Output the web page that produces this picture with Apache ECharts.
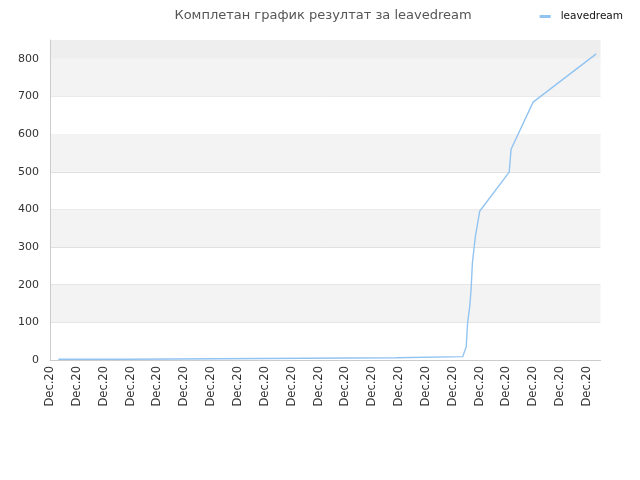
<!DOCTYPE html>
<html><head><meta charset="utf-8">
<script src="https://cdn.jsdelivr.net/npm/echarts@6/dist/echarts.min.js"></script>
<style>html,body{margin:0;padding:0;background:#fff}#c{width:640px;height:480px}</style>
</head><body><div id="c"></div>
<script>
const titleText = 'Комплетан график резултат за leavedream';
const seriesName = 'leavedream';
const tickLabel = 'Dec.20';
// x in units of tick-label spacing, y = score
const xs = [0.31, 2.87, 2.88, 7.85, 7.86, 12.87, 12.88, 15.37, 15.40, 15.50, 15.55, 15.63, 15.68, 15.73, 15.84, 16.00, 17.10, 17.17, 17.99, 20.34];
const ys = [2, 2, 4, 4, 6, 6, 9, 9, 12, 35, 98, 142, 186, 258, 328, 395, 499, 560, 685, 813];
const points = xs.map((x, i) => [x, ys[i]]);
const shadedBands = [[100, 200], [300, 400], [500, 600], [700, 800]];
const topBand = [800, 850];

const chart = echarts.init(document.getElementById('c'));
chart.setOption({
  animation: false,
  textStyle: { fontFamily: 'DejaVu Sans' },
  title: { text: titleText, left: 318, top: 4, textAlign: 'center',
    textStyle: { fontSize: 13, fontWeight: 'normal', color: '#555', fontFamily: 'DejaVu Sans' } },
  legend: { right: 12, top: 6, itemWidth: 11, itemHeight: 3, icon: 'rect', itemGap: 5,
    textStyle: { fontSize: 10.5, color: '#111', padding: [0, 0, 0, 5] }, data: [seriesName] },
  grid: { left: 50, right: 39.5, top: 40, bottom: 120, containLabel: false },
  xAxis: { type: 'value', min: 0, max: 20.5, interval: 1,
    axisLine: { show: true, lineStyle: { color: '#cccccc' } },
    axisTick: { show: false }, splitLine: { show: false },
    axisLabel: { rotate: 90, fontSize: 11.5, color: '#333', margin: 6,
      formatter: () => tickLabel, showMaxLabel: false } },
  yAxis: { type: 'value', min: 0, max: 850, interval: 100,
    axisLine: { show: true, lineStyle: { color: '#cccccc' } },
    axisTick: { show: false },
    axisLabel: { fontSize: 11, color: '#333', margin: 11, showMaxLabel: false },
    splitLine: { show: true, lineStyle: { color: '#e0e0e0' } } },
  series: [{
    name: seriesName, type: 'line', data: points, showSymbol: false, z: 5,
    lineStyle: { color: '#92c4f2', width: 1.4 }, itemStyle: { color: '#92c4f2' },
    markArea: { silent: true, z: 0, data:
      shadedBands.map(b => [{ yAxis: b[0], itemStyle: { color: '#f3f3f3' } }, { yAxis: b[1] }])
        .concat([[{ yAxis: topBand[0], itemStyle: { color: '#eeeeee' } }, { yAxis: topBand[1] }]]) }
  }]
});
</script></body></html>
